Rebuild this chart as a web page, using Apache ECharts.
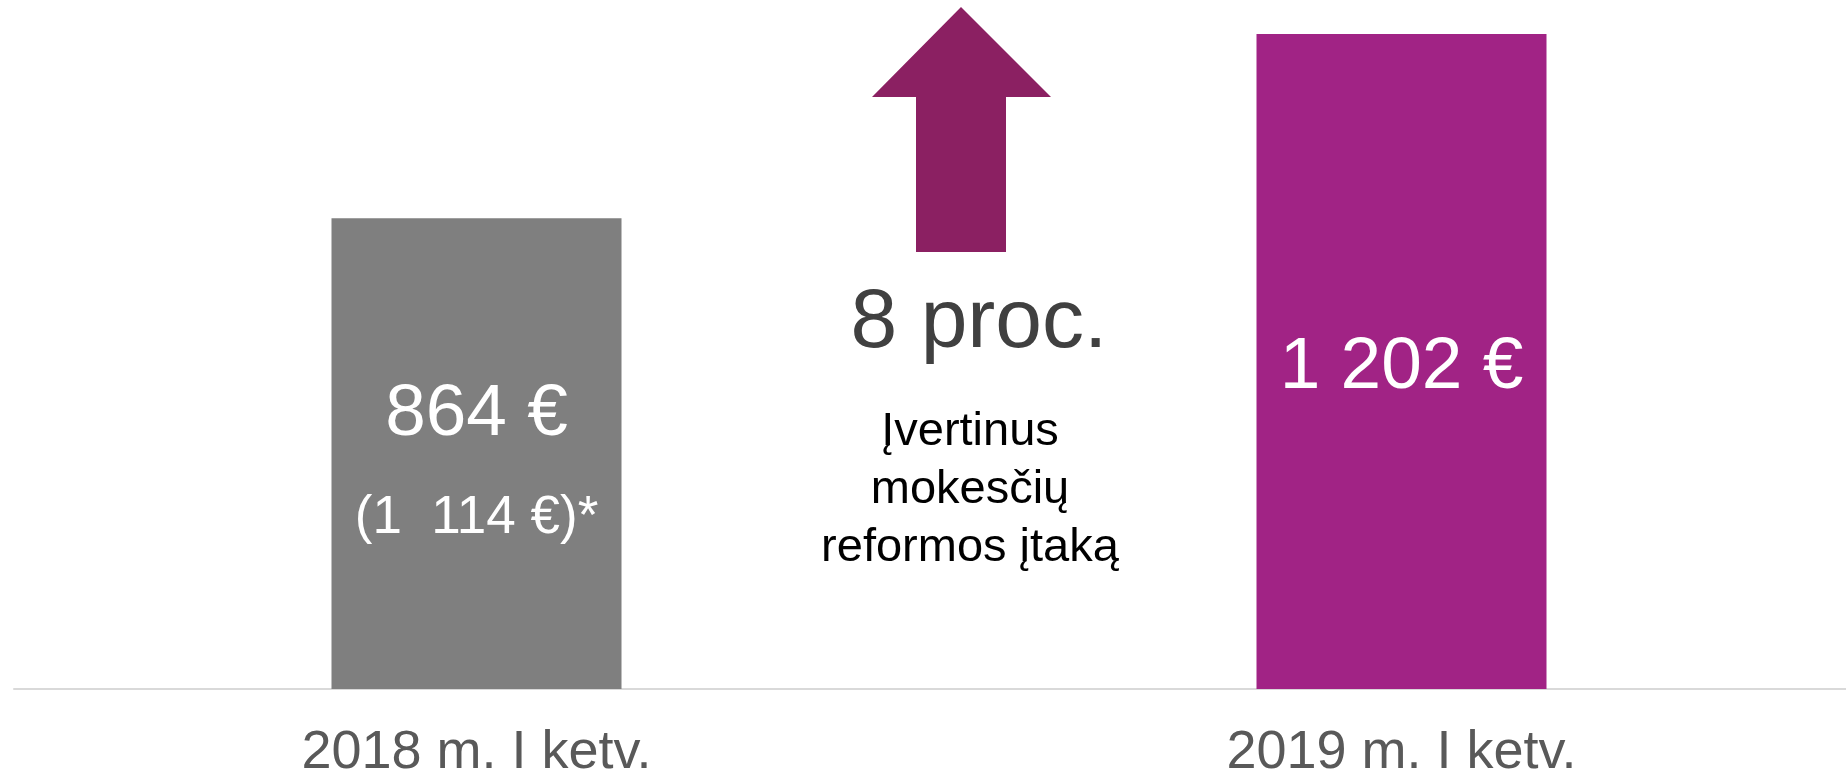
<!DOCTYPE html>
<html>
<head>
<meta charset="utf-8">
<script src="https://cdn.jsdelivr.net/npm/echarts@6/dist/echarts.min.js"></script>
<style>
  html, body { margin: 0; padding: 0; background: #fff; }
  #chart { width: 1846px; height: 776px; }
</style>
</head>
<body>
<div id="chart"></div>
<script>
  // duomenys
  var categories = ['2018 m. I ketv.', '2019 m. I ketv.'];
  var values = [864, 1202];
  var valueLabels = ['864 €', '1 202 €'];
  var noteLabels = ['(1  114 €)*', ''];
  var barColors = ['#7f7f7f', '#a12385'];
  var growthText = '8 proc.';
  var growthNote = 'Įvertinus\nmokesčių\nreformos įtaką';

  var font = '"Liberation Sans", Arial, sans-serif';

  var chart = echarts.init(document.getElementById('chart'));

  var option = {
    animation: false,
    grid: { left: 14, top: 34, right: -18, bottom: 87, outerBoundsMode: 'none', containLabel: false },
    xAxis: {
      type: 'category',
      data: categories,
      axisLine: { lineStyle: { color: '#d9d9d9', width: 2 } },
      axisTick: { show: false },
      axisLabel: { color: '#595959', fontSize: 54, fontFamily: font, margin: 37 }
    },
    yAxis: {
      type: 'value',
      min: 0,
      max: 1202,
      show: false,
      splitLine: { show: false }
    },
    series: [{
      type: 'bar',
      barWidth: 290,
      data: values.map(function (v, i) {
        return {
          value: v,
          itemStyle: { color: barColors[i] },
          label: { offset: [0, noteLabels[i] ? 13 : 6] }
        };
      }),
      label: {
        show: true,
        position: 'inside',
        fontFamily: font,
        formatter: function (p) {
          var s = '{a|' + valueLabels[p.dataIndex] + '}';
          if (noteLabels[p.dataIndex]) s += '\n{b|' + noteLabels[p.dataIndex] + '}';
          return s;
        },
        rich: {
          a: { color: '#fff', fontSize: 73, lineHeight: 104, fontFamily: font },
          b: { color: '#fff', fontSize: 53, lineHeight: 104, fontFamily: font }
        }
      }
    }],
    graphic: [
      {
        type: 'polygon',
        shape: {
          points: [[961, 7], [1051, 97], [1006, 97], [1006, 252], [916, 252], [916, 97], [872, 97]]
        },
        style: { fill: '#8b2062' }
      },
      {
        type: 'text',
        x: 979, y: 324,
        style: {
          text: growthText, fill: '#404040', font: '84px ' + font,
          textAlign: 'center', textVerticalAlign: 'middle'
        }
      },
      {
        type: 'text',
        x: 970, y: 490,
        style: {
          text: growthNote, fill: '#000', font: '47px ' + font,
          textAlign: 'center', textVerticalAlign: 'middle', lineHeight: 58
        }
      }
    ]
  };

  chart.setOption(option);
</script>
</body>
</html>
